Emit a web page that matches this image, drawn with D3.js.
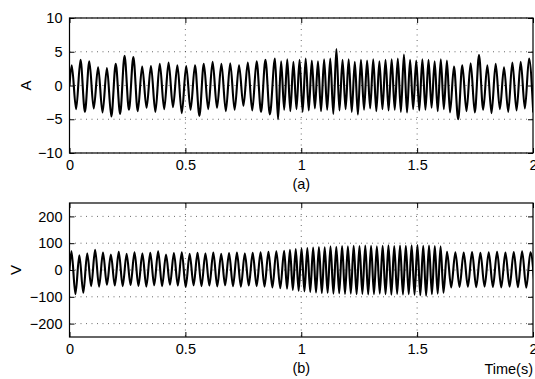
<!DOCTYPE html>
<html>
<head>
<meta charset="utf-8">
<script src="https://cdn.jsdelivr.net/npm/d3@7"></script>
<style>
  body { margin: 0; background: #fff; }
  svg { display: block; font-family: "Liberation Sans", Arial, Helvetica, sans-serif; }
</style>
</head>
<body>
<div id="chart"></div>
<script>
// x ticks shared by both panels
const timeTicks = [0, 0.5, 1, 1.5, 2];

// panel (a): current, segments of steady frequency [start time, period]
const aSegments = [[0, 0.038], [0.88, 0.0265], [1.65, 0.036]];
// per-cycle peak and trough values, one array per segment
const aMax = [
  [3.0, 3.8, 3.6, 2.7, 2.6, 3.2, 4.4, 4.2, 2.8, 2.9, 3.2, 3.4, 3.0, 2.9, 3.0, 3.2, 3.5, 3.2, 3.3, 3.0, 3.4, 3.6, 3.8],
  [4.0, 3.6, 3.9, 3.5, 3.8, 4.0, 3.7, 3.6, 3.9, 4.0, 5.4, 3.8, 3.9, 3.5, 3.8, 3.7, 3.9, 3.6, 3.8, 3.9, 4.0, 4.6, 3.8, 3.7, 3.9, 3.8, 3.6, 3.9, 3.7],
  [2.8, 3.0, 3.3, 4.5, 3.0, 3.2, 2.7, 3.4, 3.5, 4.0]
];
const aMin = [
  [-3.5, -3.9, -3.4, -4.0, -4.6, -4.2, -3.6, -3.8, -3.3, -3.9, -3.5, -3.2, -4.1, -3.6, -4.5, -3.5, -3.3, -3.8, -3.6, -3.0, -3.7, -3.9, -4.3],
  [-5.0, -3.6, -3.8, -3.5, -3.9, -3.7, -3.4, -3.8, -3.6, -4.2, -3.7, -3.5, -3.9, -4.3, -3.6, -3.4, -3.8, -3.5, -3.7, -3.6, -3.9, -4.0, -3.5, -3.7, -3.6, -3.3, -3.8, -3.5, -4.0],
  [-5.0, -3.8, -4.0, -3.6, -4.1, -3.5, -3.9, -3.7, -3.4, -4.0]
];
const aTicks = [-10, -5, 0, 5, 10];

// panel (b): voltage
const vSegments = [[0, 0.034], [0.92, 0.025], [1.62, 0.036]];
const vMax = [
  [70, 55, 62, 75, 65, 58, 68, 60, 66, 62, 64, 70, 58, 63, 66, 60, 64, 62, 65, 60, 63, 65, 62, 64, 66, 68, 70],
  [72, 75, 78, 80, 82, 84, 86, 85, 88, 87, 89, 88, 90, 89, 91, 90, 88, 90, 92, 89, 91, 90, 92, 93, 90, 91, 89, 88],
  [68, 66, 65, 67, 64, 66, 68, 65, 67, 70, 66]
];
const vMin = [
  [-90, -85, -60, -62, -55, -58, -60, -56, -59, -62, -57, -60, -55, -58, -63, -57, -60, -58, -61, -57, -60, -62, -58, -60, -62, -65, -68],
  [-70, -74, -77, -80, -82, -84, -86, -85, -88, -87, -89, -88, -90, -89, -91, -90, -88, -90, -92, -89, -91, -90, -92, -94, -96, -90, -88, -85],
  [-65, -63, -62, -64, -62, -63, -65, -62, -64, -66, -63]
];
const vTicks = [-200, -100, 0, 100, 200];

const W = 535, H = 379;
const svg = d3.select("#chart").append("svg").attr("width", W).attr("height", H);

// turn segment peaks into a time series of extrema
function extrema(segments, maxs, mins) {
  const pts = [[0, 0]];
  segments.forEach(([t0, p], s) => {
    maxs[s].forEach((v, k) => {
      pts.push([t0 + p * (k + 0.25), v]);
      pts.push([t0 + p * (k + 0.75), mins[s][k]]);
    });
  });
  return pts;
}

function panel(cfg) {
  const { top, bottom, yDomain, yTicks, data, yLabel, yLabelX, caption, id } = cfg;
  const left = 69.5, right = 533;
  const x = d3.scaleLinear().domain([0, 2]).range([left, right]);
  const y = d3.scaleLinear().domain(yDomain).range([bottom, top]);
  const g = svg.append("g");

  g.append("clipPath").attr("id", id).append("rect")
    .attr("x", left).attr("y", top).attr("width", right - left).attr("height", bottom - top);

  // dotted grid
  const grid = g.append("g").attr("stroke", "#444").attr("stroke-width", 0.8).attr("stroke-dasharray", "1,4.5");
  grid.selectAll(".gx").data(timeTicks.slice(1, -1)).join("line")
    .attr("x1", d => x(d)).attr("x2", d => x(d)).attr("y1", top).attr("y2", bottom);
  grid.selectAll(".gy").data(yTicks).join("line")
    .attr("x1", left).attr("x2", right).attr("y1", d => y(d)).attr("y2", d => y(d));

  // signal
  const line = d3.line().x(d => x(d[0])).y(d => y(d[1])).curve(d3.curveMonotoneX);
  g.append("path").datum(data)
    .attr("clip-path", `url(#${id})`)
    .attr("fill", "none").attr("stroke", "#000").attr("stroke-width", 2.1)
    .attr("stroke-linejoin", "round")
    .attr("d", line);

  // axes with inward ticks on all sides
  const tl = 5;
  g.append("g").attr("transform", `translate(0,${bottom})`)
    .call(d3.axisBottom(x).tickValues(timeTicks).tickSizeInner(-tl).tickSizeOuter(0).tickPadding(7).tickFormat(d3.format("")))
    .call(a => a.select(".domain").remove());
  g.append("g").attr("transform", `translate(0,${top})`)
    .call(d3.axisTop(x).tickValues(timeTicks).tickSizeInner(-tl).tickSizeOuter(0).tickFormat(""))
    .call(a => a.select(".domain").remove());
  g.append("g").attr("transform", `translate(${left},0)`)
    .call(d3.axisLeft(y).tickValues(yTicks).tickSizeInner(-tl).tickSizeOuter(0).tickPadding(7).tickFormat(d => d < 0 ? "\u2212" + Math.abs(d) : d))
    .call(a => a.select(".domain").remove());
  g.append("g").attr("transform", `translate(${right},0)`)
    .call(d3.axisRight(y).tickValues(yTicks).tickSizeInner(-tl).tickSizeOuter(0).tickFormat(""))
    .call(a => a.select(".domain").remove());
  g.selectAll(".tick text").attr("font-size", 14.5).attr("fill", "#000")
    .attr("font-family", "Liberation Sans, Arial, sans-serif");
  g.selectAll(".tick line").attr("stroke", "#000");

  g.append("rect").attr("x", left).attr("y", top).attr("width", right - left).attr("height", bottom - top)
    .attr("fill", "none").attr("stroke", "#000").attr("stroke-width", 1.2);

  g.append("text").attr("transform", `translate(${yLabelX},${(top + bottom) / 2}) rotate(-90)`)
    .attr("text-anchor", "middle").attr("font-size", 15).text(yLabel);
  g.append("text").attr("x", (left + right) / 2).attr("y", bottom + 36)
    .attr("text-anchor", "middle").attr("font-size", 14.5).text(caption);
  return { left, right, bottom };
}

panel({ id: "clipA", top: 18, bottom: 153, yDomain: [-10, 10], yTicks: aTicks,
  data: extrema(aSegments, aMax, aMin), yLabel: "A", yLabelX: 31, caption: "(a)" });
const pb = panel({ id: "clipB", top: 203, bottom: 337, yDomain: [-250, 250], yTicks: vTicks,
  data: extrema(vSegments, vMax, vMin), yLabel: "V", yLabelX: 21, caption: "(b)" });

svg.append("text").attr("x", pb.right).attr("y", pb.bottom + 37)
  .attr("text-anchor", "end").attr("font-size", 14.5).text("Time(s)");
</script>
</body>
</html>
